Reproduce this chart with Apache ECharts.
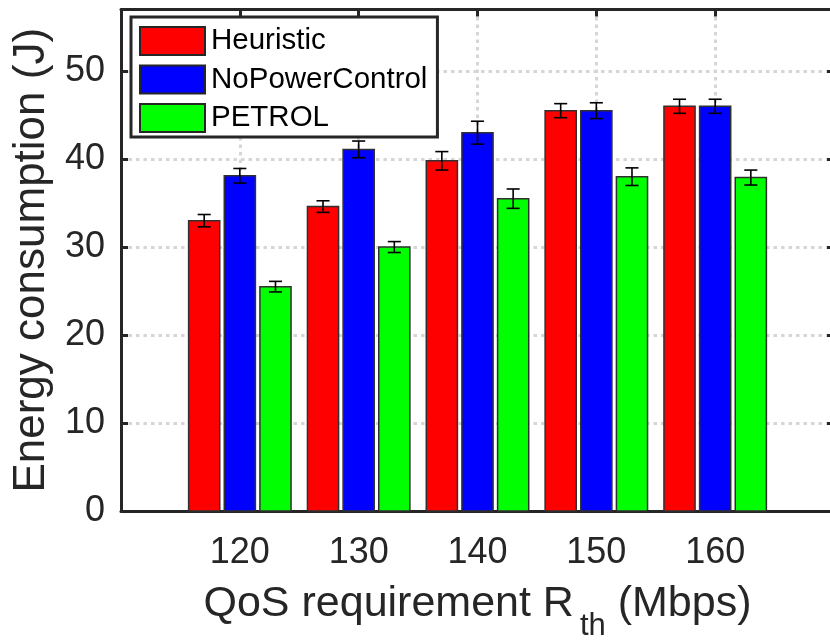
<!DOCTYPE html>
<html>
<head>
<meta charset="utf-8">
<script src="https://cdn.jsdelivr.net/npm/echarts@6/dist/echarts.min.js"></script>
<style>
html,body{margin:0;padding:0;background:#fff;}
#chart{width:830px;height:643px;}
</style>
</head>
<body>
<div id="chart"></div>
<script>
// ---- data ----
const categories = [120, 130, 140, 150, 160];
const seriesNames = ['Heuristic', 'NoPowerControl', 'PETROL'];
const heuristic = [33.0, 34.6, 39.8, 45.5, 46.0];
const heuristicErr = [0.7, 0.66, 1.05, 0.8, 0.8];
const noPowerControl = [38.1, 41.1, 43.0, 45.5, 46.0];
const noPowerControlErr = [0.83, 0.95, 1.3, 0.9, 0.8];
const petrol = [25.5, 30.0, 35.5, 38.0, 37.9];
const petrolErr = [0.6, 0.62, 1.1, 1.0, 0.85];
const yTicks = [0, 10, 20, 30, 40, 50];

const FONT = "'Liberation Sans', Arial, Helvetica, sans-serif";
const AX = '#262626';
const colors = ['#ff0000', '#0000ff', '#00ff00'];
const offsets = [-3, 0, 3];
const BAR_W = 2.62;   // in x data units
const CAP_W = 1.1;

function makeSeries(idx, vals, errs) {
  const data = categories.map((c, i) => [c, vals[i], errs[i]]);
  const off = offsets[idx];
  const col = colors[idx];
  return {
    name: seriesNames[idx],
    type: 'custom',
    data: data,
    itemStyle: { color: col, borderColor: AX, borderWidth: 1 },
    encode: { x: 0, y: 1 },
    z: 3,
    renderItem: function (params, api) {
      const x = api.value(0) + off;
      const y = api.value(1);
      const e = api.value(2);
      const base = api.coord([x, 0]);
      const top = api.coord([x, y]);
      const w = api.size([BAR_W, 0])[0];
      const cw = api.size([CAP_W, 0])[0];
      const hi = api.coord([x, y + e]);
      const lo = api.coord([x, y - e]);
      const es = { stroke: '#000', lineWidth: 1.6 };
      return {
        type: 'group',
        children: [
          { type: 'rect', shape: { x: base[0] - w / 2, y: top[1], width: w, height: base[1] - top[1] },
            style: { fill: col, stroke: '#303030', lineWidth: 1.5 } },
          { type: 'line', shape: { x1: hi[0], y1: hi[1], x2: lo[0], y2: lo[1] }, style: es },
          { type: 'line', shape: { x1: hi[0] - cw / 2, y1: hi[1], x2: hi[0] + cw / 2, y2: hi[1] }, style: es },
          { type: 'line', shape: { x1: lo[0] - cw / 2, y1: lo[1], x2: lo[0] + cw / 2, y2: lo[1] }, style: es }
        ]
      };
    }
  };
}

const chart = echarts.init(document.getElementById('chart'), null, { renderer: 'canvas' });
const gridLine = { show: true, lineStyle: { color: '#d6d6d6', width: 3, type: [3.5, 4] } };
const axLine = { show: true, onZero: false, lineStyle: { color: AX, width: 3 } };
const axTick = { show: true, inside: true, length: 7, lineStyle: { color: AX, width: 3 } };

chart.setOption({
  backgroundColor: '#fff',
  animation: false,
  textStyle: { fontFamily: FONT },
  grid: { left: 121, right: -4, top: 9.5, bottom: 132, containLabel: false, outerBoundsMode: 'none' },
  legend: {
    orient: 'vertical',
    left: 131, top: 17,
    padding: [9, 10, 4, 8],
    itemWidth: 65, itemHeight: 28, itemGap: 8.5,
    icon: 'rect',
    backgroundColor: '#fff',
    borderColor: AX, borderWidth: 3,
    textStyle: { fontSize: 29.5, color: '#000', fontFamily: FONT, lineHeight: 28, padding: [0, 0, 0, 1] },
    data: seriesNames,
    z: 10
  },
  xAxis: [{
    type: 'value', min: 110, max: 170, interval: 10, position: 'bottom',
    axisLine: axLine, axisTick: axTick, splitLine: gridLine,
    axisLabel: { fontSize: 36, color: AX, margin: 24, fontFamily: FONT, showMinLabel: false, showMaxLabel: false },
    name: '{a|QoS requirement R}{s|th}{a| (Mbps)}',
    nameLocation: 'middle', nameGap: 72,
    nameTextStyle: {
      rich: {
        a: { fontSize: 43, lineHeight: 43, color: AX, fontFamily: FONT, verticalAlign: 'top' },
        s: { fontSize: 31, lineHeight: 31, color: AX, fontFamily: FONT, verticalAlign: 'top', padding: [28, 0, 0, 6] }
      }
    }
  }, {
    type: 'value', min: 110, max: 170, interval: 10, position: 'top',
    axisLine: axLine, axisTick: axTick, splitLine: { show: false }, axisLabel: { show: false }
  }],
  yAxis: [{
    type: 'value', min: 0, max: 57, interval: 10, position: 'left',
    axisLine: axLine, axisTick: axTick, splitLine: gridLine,
    axisLabel: { fontSize: 36, color: AX, margin: 16, fontFamily: FONT, showMaxLabel: false,
      formatter: v => (yTicks.indexOf(v) >= 0 ? String(v) : '') },
    name: 'Energy consumption (J)', nameLocation: 'middle', nameGap: 64, nameRotate: 90,
    nameTextStyle: { fontSize: 44, color: AX, fontFamily: FONT }
  }, {
    type: 'value', min: 0, max: 57, interval: 10, position: 'right',
    axisLine: axLine, axisTick: axTick, splitLine: { show: false }, axisLabel: { show: false }
  }],
  series: [
    makeSeries(0, heuristic, heuristicErr),
    makeSeries(1, noPowerControl, noPowerControlErr),
    makeSeries(2, petrol, petrolErr)
  ]
});
</script>
</body>
</html>
